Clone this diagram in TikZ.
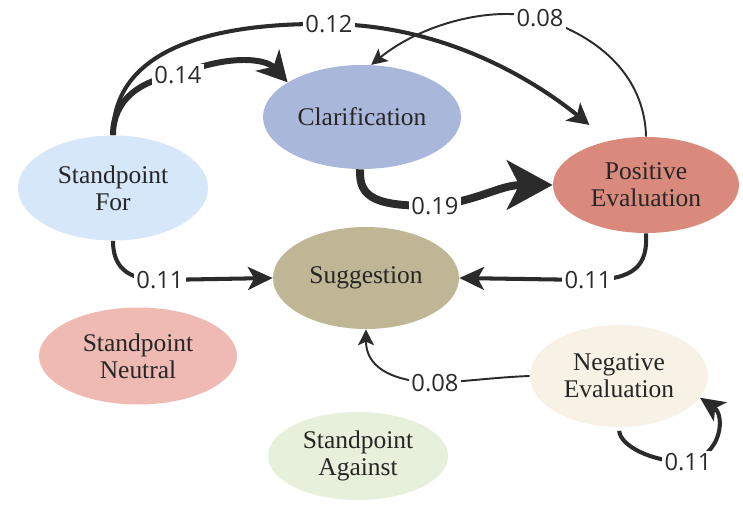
\documentclass[tikz,border=0pt]{standalone}
\usepackage{fontspec}
\setmainfont{Liberation Serif}
\newfontfamily\statefont{Liberation Serif}
\newfontfamily\lblfont{Open Sans}
\usepackage{tikz}
\usetikzlibrary{shapes.geometric, arrows.meta}

\definecolor{forblue}{HTML}{D5E7F8}
\definecolor{clarblue}{HTML}{A9B8DA}
\definecolor{posred}{HTML}{D98A7C}
\definecolor{suggkhaki}{HTML}{BEB694}
\definecolor{neutpink}{HTML}{EEBAB3}
\definecolor{agagreen}{HTML}{E6F0DA}
\definecolor{negcream}{HTML}{F8F2E6}
\definecolor{ink}{HTML}{2B2B2B}

\begin{document}
\begin{tikzpicture}[
  state/.style={ellipse, inner sep=0pt, align=center, text=black!85, font=\statefont\fontsize{14.5}{15.5}\selectfont},
  lbl/.style={fill=white, inner sep=1.5pt, text=ink, font=\lblfont\fontsize{13.5}{15}\selectfont},
  w19/.style={draw=ink, line width=4.5pt, -{Stealth[length=26pt, width=28pt, inset=7pt]}},
  w14/.style={draw=ink, line width=3.4pt, -{Stealth[length=17pt, width=18pt, inset=5pt]}},
  w12/.style={draw=ink, line width=2.3pt, -{Stealth[length=12pt, width=13pt, inset=3pt]}},
  w11/.style={draw=ink, line width=2.3pt, -{Stealth[length=14pt, width=13pt, inset=3.5pt]}},
  w08/.style={draw=ink, line width=1.1pt, -{Stealth[length=9pt, width=9pt, inset=2pt]}},
]
  \path[fill=white, use as bounding box] (0,0) rectangle (14.86,-10.10);

  \node[state, fill=forblue, minimum width=3.8cm, minimum height=2.1cm] (sf) at (2.26,-3.76) {Standpoint\\For};
  \node[state, fill=clarblue, minimum width=3.96cm, minimum height=2.08cm] (cl) at (7.24,-2.34) {Clarification};
  \node[state, fill=posred, minimum width=3.72cm, minimum height=1.92cm] (pe) at (12.92,-3.70) {Positive\\Evaluation};
  \node[state, fill=suggkhaki, minimum width=3.72cm, minimum height=2.04cm] (sg) at (7.32,-5.56) {Suggestion};
  \node[state, fill=neutpink, minimum width=3.96cm, minimum height=1.94cm] (sn) at (2.76,-7.12) {Standpoint\\Neutral};
  \node[state, fill=agagreen, minimum width=3.6cm, minimum height=1.76cm] (sa) at (7.16,-9.12) {Standpoint\\Against};
  \node[state, fill=negcream, minimum width=3.56cm, minimum height=2.04cm] (ne) at (12.38,-7.52) {Negative\\Evaluation};

  % transitions
  \draw[w12, shorten >=0.5cm] (sf.north) .. controls (2.26,-1.0) and (4.2,-0.45) .. (6.58,-0.48) node[lbl]{0.12}
    .. controls (9.0,-0.5) and (10.8,-1.7) .. (pe.130);
  \draw[w14] (sf.north) .. controls (2.26,-2.0) and (2.8,-1.6) .. (3.56,-1.50) node[lbl]{0.14}
    .. controls (4.5,-1.1) and (5.3,-1.15) .. (cl.155);
  \draw[w08] (pe.north) .. controls (12.9,-1.7) and (12.2,-0.8) .. (10.80,-0.36) node[lbl]{0.08}
    .. controls (9.8,-0.1) and (8.4,-0.5) .. (cl.80);
  \draw[w19] (cl.268) .. controls (7.16,-4.0) and (7.6,-4.12) .. (8.70,-4.12) node[lbl]{0.19}
    .. controls (9.6,-4.0) and (10.0,-3.70) .. (pe.west);
  \draw[w11] (sf.south) .. controls (2.26,-5.3) and (2.5,-5.60) .. (3.20,-5.60) node[lbl]{0.11} -- (sg.west);
  \draw[w11] (pe.south) .. controls (12.96,-5.3) and (12.7,-5.60) .. (11.76,-5.60) node[lbl]{0.11} -- (sg.east);
  \draw[w08] (ne.west) .. controls (10.0,-7.54) and (9.4,-7.62) .. (8.70,-7.66) node[lbl]{0.08}
    .. controls (7.75,-7.62) and (7.32,-7.3) .. (sg.south);
  \draw[w11, shorten <=2pt] (ne.south) .. controls (12.4,-8.9) and (13.0,-9.24) .. (13.76,-9.24) node[lbl]{0.11}
    .. controls (14.45,-9.1) and (14.5,-8.3) .. (ne.-15);
\end{tikzpicture}
\end{document}
